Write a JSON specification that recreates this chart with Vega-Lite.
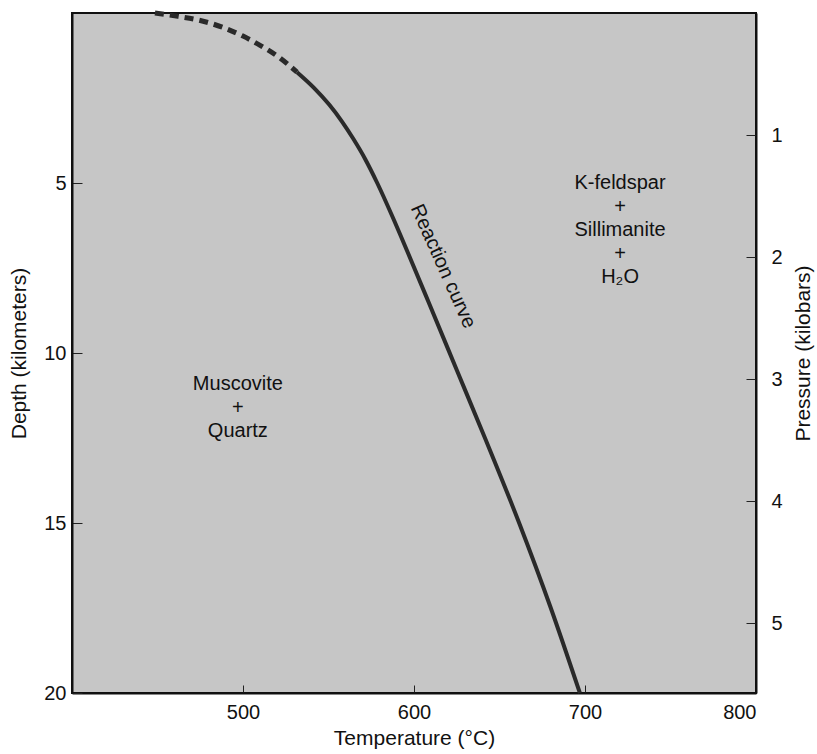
{
  "$schema": "https://vega.github.io/schema/vega-lite/v6.json",
  "width": 684,
  "height": 680,
  "autosize": "none",
  "padding": {"left": 72, "top": 13, "right": 61, "bottom": 61},
  "background": "white",
  "config": {
    "font": "Liberation Sans",
    "view": {"fill": "#c6c6c6", "stroke": "#111", "strokeWidth": 2},
    "axis": {
      "labelFont": "Liberation Sans",
      "titleFont": "Liberation Sans",
      "labelFontSize": 20,
      "titleFontSize": 21,
      "titleFontWeight": "normal",
      "labelColor": "#111",
      "titleColor": "#111",
      "domainColor": "#111",
      "domainWidth": 2,
      "tickColor": "#222",
      "grid": false
    }
  },
  "datasets": {
    "dashed": [
      {"T": 448.5, "d": 0.0},
      {"T": 462, "d": 0.1},
      {"T": 475, "d": 0.22},
      {"T": 488, "d": 0.42},
      {"T": 500, "d": 0.68},
      {"T": 510, "d": 0.95},
      {"T": 521, "d": 1.3},
      {"T": 531.6, "d": 1.74}
    ],
    "solid": [
      {"T": 531.6, "d": 1.74},
      {"T": 541.5, "d": 2.2},
      {"T": 550.5, "d": 2.7},
      {"T": 558, "d": 3.2},
      {"T": 564.5, "d": 3.7},
      {"T": 571.5, "d": 4.3},
      {"T": 578.5, "d": 5.0},
      {"T": 587.5, "d": 6.0},
      {"T": 596, "d": 7.0},
      {"T": 608.5, "d": 8.5},
      {"T": 625, "d": 10.5},
      {"T": 641.5, "d": 12.5},
      {"T": 661.5, "d": 15},
      {"T": 680, "d": 17.5},
      {"T": 697, "d": 20}
    ],
    "fields": [
      {"T": 497, "d": 10.92, "label": "Muscovite\n+\nQuartz"},
      {"T": 720.5, "d": 5.0, "label": "K-feldspar\n+\nSillimanite\n+\nH₂O"}
    ],
    "curvelabel": [
      {"T": 617, "d": 7.45, "label": "Reaction curve"}
    ],
    "pressure": [
      {"p": 0},
      {"p": 5.57}
    ]
  },
  "layer": [
    {
      "layer": [
        {
          "data": {"name": "dashed"},
          "mark": {"type": "line", "color": "#2a2a2a", "strokeWidth": 5, "strokeDash": [9, 6], "interpolate": "monotone"},
          "encoding": {
            "x": {"field": "T", "type": "quantitative", "scale": {"domain": [400, 800], "nice": false},
              "axis": {"title": "Temperature (°C)", "values": [500, 600, 700, 800], "tickSize": -8, "labelPadding": 17, "titlePadding": 5}},
            "y": {"field": "d", "type": "quantitative", "scale": {"domain": [0, 20], "reverse": true, "nice": false},
              "axis": {"orient": "left", "title": "Depth (kilometers)", "values": [5, 10, 15, 20], "tickSize": -10, "labelPadding": 16, "titlePadding": 14}}
          }
        },
        {
          "data": {"name": "solid"},
          "mark": {"type": "line", "color": "#2a2a2a", "strokeWidth": 4, "interpolate": "monotone"},
          "encoding": {
            "x": {"field": "T", "type": "quantitative"},
            "y": {"field": "d", "type": "quantitative"}
          }
        },
        {
          "data": {"name": "fields"},
          "mark": {"type": "text", "fontSize": 20, "lineHeight": 23.5, "lineBreak": "\n", "color": "#111", "baseline": "middle", "align": "center"},
          "encoding": {
            "x": {"field": "T", "type": "quantitative"},
            "y": {"field": "d", "type": "quantitative"},
            "text": {"field": "label"}
          }
        },
        {
          "data": {"name": "curvelabel"},
          "mark": {"type": "text", "fontSize": 20, "angle": 66, "color": "#111", "baseline": "middle", "align": "center"},
          "encoding": {
            "x": {"field": "T", "type": "quantitative"},
            "y": {"field": "d", "type": "quantitative"},
            "text": {"field": "label"}
          }
        }
      ]
    },
    {
      "data": {"name": "pressure"},
      "mark": {"type": "point", "opacity": 0},
      "encoding": {
        "y": {"field": "p", "type": "quantitative", "scale": {"domain": [0, 5.57], "reverse": true, "nice": false, "zero": false},
          "axis": {"orient": "right", "title": "Pressure (kilobars)", "values": [1, 2, 3, 4, 5], "tickSize": -10, "labelPadding": 25, "titleAngle": 270, "titleBaseline": "top", "titlePadding": 10}}
      }
    }
  ],
  "resolve": {"scale": {"y": "independent"}, "axis": {"y": "independent"}}
}
